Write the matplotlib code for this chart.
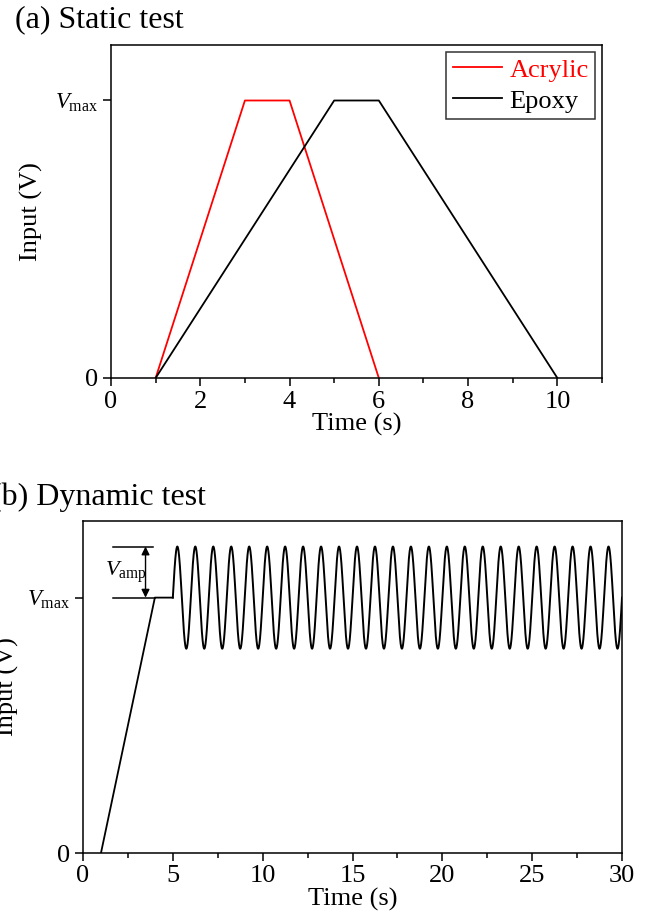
import numpy as np
import matplotlib.pyplot as plt
from matplotlib.ticker import MultipleLocator

plt.rcParams['font.family'] = ['Liberation Serif', 'DejaVu Serif']
plt.rcParams['mathtext.fontset'] = 'custom'
plt.rcParams['mathtext.rm'] = 'Liberation Serif'
plt.rcParams['mathtext.it'] = 'Liberation Serif:italic'

# (a) static test profiles
acrylic_t = [1, 3, 4, 6]
acrylic_v = [0, 1, 1, 0]
epoxy_t = [1, 5, 6, 10]
epoxy_v = [0, 1, 1, 0]

# (b) dynamic test: ramp, hold, then sine at 1 Hz
ramp_t = [1, 4, 5]
ramp_v = [0, 1, 1]
v_max = 1.0
v_amp = 0.2
freq = 1.0
t_sine_start = 5
t_end = 30

FS = 19

fig = plt.figure(figsize=(6.49, 9.14), dpi=100)

def style(ax):
    ax.tick_params(which='both', direction='out', top=False, right=False,
                   labelsize=FS, pad=3)
    ax.tick_params(which='major', length=6, width=1.1)
    ax.tick_params(which='minor', length=3.5, width=1.1)
    for s in ax.spines.values():
        s.set_linewidth(1.1)
    ax.set_yticks([0, v_max])
    ax.set_yticklabels(['0', r'$V_{\mathrm{max}}$'])
    ax.get_yticklabels()[1].set_fontsize(16.5)

# top panel
ax1 = fig.add_axes([111/649, 1-378/914, (602-111)/649, (378-45)/914])
ax1.plot(acrylic_t, acrylic_v, color='red', lw=1.3, label='Acrylic')
ax1.plot(epoxy_t, epoxy_v, color='black', lw=1.3, label='Epoxy')
ax1.set_xlim(0, 11)
ax1.set_ylim(0, 1.2)
ax1.xaxis.set_major_locator(MultipleLocator(2))
ax1.xaxis.set_minor_locator(MultipleLocator(1))
ax1.set_xlabel('Time (s)', fontsize=FS, labelpad=0)
ax1.set_ylabel('Input (V)', fontsize=FS)
ax1.yaxis.set_label_coords(-0.138, 0.5)
style(ax1)
leg = ax1.legend(loc='upper right', fontsize=FS, frameon=True, fancybox=False,
                 edgecolor='black', borderaxespad=0.25, handlelength=1.85,
                 handletextpad=0.3, borderpad=0.25, labelspacing=0.28)
leg.get_frame().set_linewidth(1.1)
for txt, ln in zip(leg.get_texts(), leg.get_lines()):
    txt.set_color(ln.get_color())

# bottom panel
ax2 = fig.add_axes([83/649, 1-853/914, (622-83)/649, (853-521)/914])
t = np.linspace(t_sine_start, t_end, 3000)
v = v_max + v_amp * np.sin(2 * np.pi * freq * (t - t_sine_start))
ax2.plot(ramp_t, ramp_v, color='black', lw=1.3)
ax2.plot(t, v, color='black', lw=1.4)
ax2.set_xlim(0, 30)
ax2.set_ylim(0, 1.3)
ax2.xaxis.set_major_locator(MultipleLocator(5))
ax2.xaxis.set_minor_locator(MultipleLocator(2.5))
ax2.set_xlabel('Time (s)', fontsize=FS, labelpad=0)
style(ax2)
# V_amp annotation
ax2.plot([1.65, 3.9], [v_max + v_amp] * 2, color='black', lw=1.1)
ax2.plot([1.65, 4.0], [v_max] * 2, color='black', lw=1.1)
ax2.annotate('', xy=(3.48, v_max), xytext=(3.48, v_max + v_amp),
             arrowprops=dict(arrowstyle='<|-|>', color='black', lw=1.0,
                             mutation_scale=12, shrinkA=0, shrinkB=0))
ax2.text(2.4, v_max + v_amp / 2, r'$V_{\mathrm{amp}}$', fontsize=16,
         ha='center', va='center')

fig.text(7/649, 1-687/914, 'Input (V)', fontsize=FS, rotation=90, ha='center', va='center')
fig.text(15/649, 1-20/914, '(a) Static test', fontsize=23, ha='left', va='center')
fig.text(-9/649, 1-497/914, '(b) Dynamic test', fontsize=23, ha='left', va='center')

fig.savefig('out.png', dpi=100)
